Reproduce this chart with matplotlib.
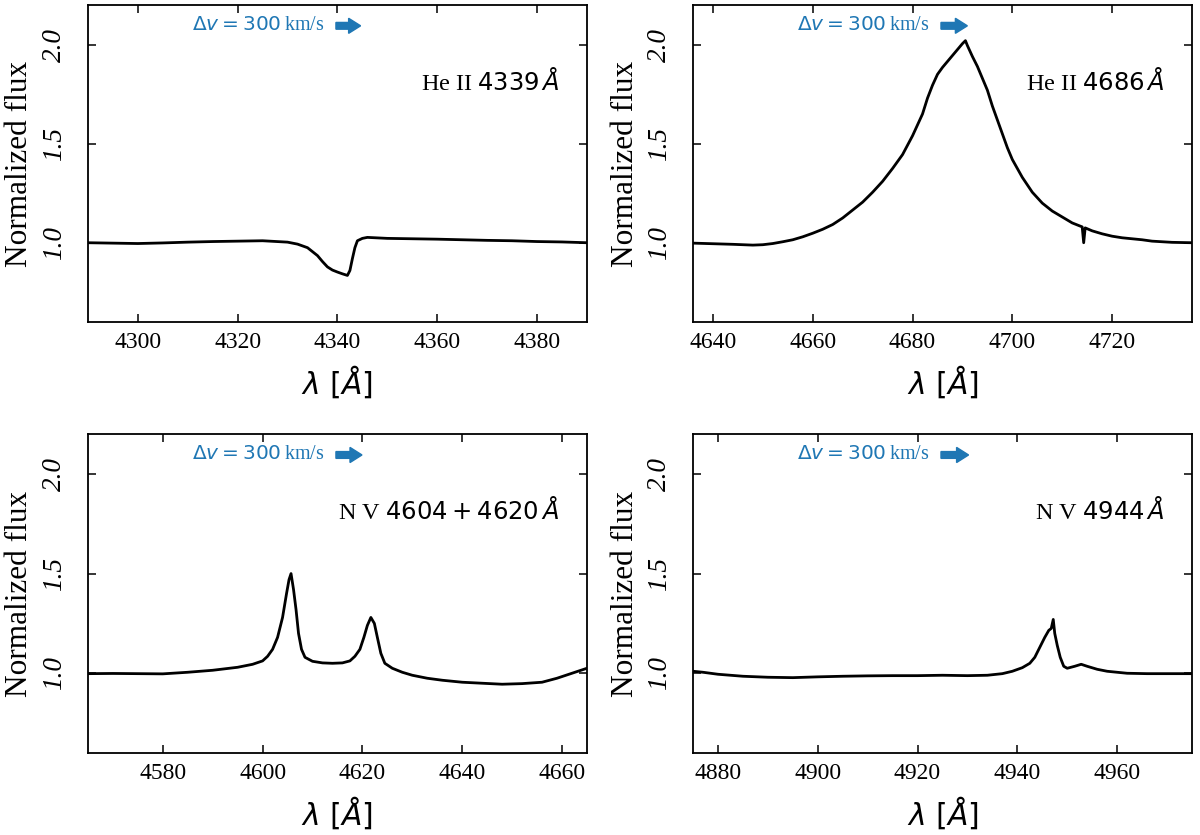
import numpy as np
import matplotlib
matplotlib.use('Agg')
import matplotlib.pyplot as plt

plt.rcParams['font.family'] = 'serif'
plt.rcParams['font.serif'] = ['Liberation Serif', 'DejaVu Serif']
plt.rcParams['mathtext.fontset'] = 'dejavusans'

# values (wavelength in A, normalized flux)
wl_4339 = [4290, 4295, 4300, 4305, 4310, 4315, 4320, 4325, 4330, 4332, 4334, 4336,
           4337, 4338, 4339, 4340, 4341, 4342, 4342.5, 4343, 4343.5, 4344, 4345,
           4346, 4350, 4355, 4360, 4365, 4370, 4375, 4380, 4385, 4390]
fl_4339 = [1.000, 0.998, 0.996, 0.999, 1.003, 1.006, 1.008, 1.010, 1.003, 0.993, 0.975, 0.935,
           0.905, 0.878, 0.862, 0.852, 0.843, 0.835, 0.860, 0.920, 0.975, 1.010, 1.022,
           1.027, 1.022, 1.020, 1.018, 1.015, 1.012, 1.010, 1.006, 1.004, 1.000]

wl_4686 = [4636, 4640, 4644, 4648, 4650, 4652, 4654, 4656, 4658, 4660, 4662, 4664, 4666,
           4668, 4670, 4672, 4674, 4676, 4678, 4680, 4682, 4683, 4684, 4685, 4686, 4687, 4688,
           4689, 4690, 4690.6, 4691, 4692, 4693, 4694, 4695, 4696, 4697, 4698, 4699, 4700,
           4702, 4704, 4706, 4708, 4710, 4712, 4714, 4714.3, 4714.6, 4716, 4718, 4720,
           4722, 4724, 4726, 4728, 4730, 4732, 4736]
fl_4686 = [0.998, 0.995, 0.992, 0.988, 0.990, 0.996, 1.005, 1.015, 1.030, 1.048, 1.068, 1.092, 1.125,
           1.165, 1.205, 1.255, 1.310, 1.375, 1.445, 1.540, 1.650, 1.730, 1.795, 1.850, 1.885, 1.915, 1.945,
           1.975, 2.005, 2.020, 1.995, 1.940, 1.890, 1.830, 1.770, 1.690, 1.620, 1.550, 1.480, 1.420,
           1.330, 1.255, 1.200, 1.160, 1.130, 1.100, 1.080, 1.000, 1.075, 1.060, 1.045, 1.033,
           1.025, 1.020, 1.015, 1.008, 1.005, 1.002, 1.000]

wl_nv46 = [4565, 4570, 4575, 4580, 4585, 4590, 4595, 4598, 4600, 4601, 4602, 4603, 4604,
           4604.8, 4605.3, 4605.7, 4606.2, 4606.7, 4607.2, 4607.8, 4608.5, 4610, 4612, 4614,
           4616, 4617.5, 4618.5, 4619.5, 4620.3, 4621, 4621.7, 4622.4, 4623, 4623.7, 4624.5,
           4626, 4628, 4630, 4633, 4636, 4640, 4644, 4648, 4652, 4656, 4659, 4662, 4665]
fl_nv46 = [0.998, 0.999, 0.998, 0.997, 1.005, 1.015, 1.030, 1.045, 1.062, 1.085, 1.120, 1.180, 1.280,
           1.400, 1.470, 1.500, 1.420, 1.320, 1.200, 1.120, 1.080, 1.060, 1.052, 1.050,
           1.052, 1.062, 1.085, 1.120, 1.180, 1.240, 1.280, 1.250, 1.180, 1.100, 1.050,
           1.025, 1.005, 0.990, 0.975, 0.965, 0.955, 0.950, 0.945, 0.948, 0.955, 0.975, 1.000, 1.025]

wl_4944 = [4875, 4877, 4880, 4885, 4890, 4895, 4900, 4905, 4910, 4915, 4920, 4925, 4930,
           4934, 4937, 4939, 4941, 4942.5, 4943.5, 4944.5, 4945.5, 4946.3, 4946.8, 4947.2,
           4947.5, 4948, 4948.6, 4949.3, 4950, 4951.5, 4952.8, 4954, 4956, 4958, 4962,
           4966, 4970, 4975]
fl_4944 = [1.010, 1.005, 0.995, 0.985, 0.980, 0.978, 0.982, 0.985, 0.987, 0.988, 0.988, 0.990, 0.988,
           0.990, 0.998, 1.010, 1.028, 1.050, 1.080, 1.130, 1.180, 1.215, 1.225, 1.270,
           1.200, 1.140, 1.080, 1.035, 1.025, 1.035, 1.045, 1.035, 1.020, 1.010, 1.000,
           0.998, 0.998, 0.998]

centers = [4340, 4686, 4615, 4925]
labels = ['He II $4339\\,\\AA$', 'He II $4686\\,\\AA$',
          'N V $4604 + 4620\\,\\AA$', 'N V $4944\\,\\AA$']
spectra = [(wl_4339, fl_4339), (wl_4686, fl_4686), (wl_nv46, fl_nv46), (wl_4944, fl_4944)]

dv = 300.0  # km/s
c_kms = 299792.458
blue = '#1f77b4'

fig = plt.figure(figsize=(12, 8.35), dpi=100)
rects = [[0.0733, 0.6144, 0.4158, 0.3796],
         [0.5775, 0.6144, 0.4158, 0.3796],
         [0.0733, 0.0982, 0.4158, 0.382],
         [0.5775, 0.0982, 0.4158, 0.382]]

for rect, (wl, fl), xc, lab in zip(rects, spectra, centers, labels):
    ax = fig.add_axes(rect)
    ax.plot(wl, fl, color='k', lw=2.0)
    ax.set_xlim(xc - 50, xc + 50)
    ax.set_ylim(0.6, 2.2)
    ax.set_yticks([1.0, 1.5, 2.0])
    ax.set_xticks(np.arange(np.ceil((xc - 50) / 20) * 20, xc + 50, 20))
    ax.tick_params(direction='in', top=True, right=True, length=5.5, width=1.1)
    ax.tick_params(axis='x', labelsize=17, pad=7)
    ax.tick_params(axis='y', labelsize=19.5, pad=15)
    for t in ax.get_yticklabels():
        t.set_rotation(90)
        t.set_va('center')
        t.set_style('italic')
    for s in ax.spines.values():
        s.set_linewidth(1.3)
    ax.set_xlabel(r'$\lambda\ [\AA]$', fontsize=21.5, labelpad=8)
    ax.set_ylabel('Normalized flux', fontsize=22.5, labelpad=5.5)

    ax.text(0.945, 0.76, lab, transform=ax.transAxes, ha='right', va='center',
            fontsize=17.5)

    # velocity scale arrow
    dlam = xc * dv / c_kms
    ax.arrow(xc - 0.3, 2.095, dlam + 0.6, 0, width=0.034, head_width=0.076,
             head_length=2.4, length_includes_head=True, color=blue, lw=1)
    ax.text(xc - 2.6, 2.095, r'$\Delta v = 300\,$km/s', color=blue,
            ha='right', va='center', fontsize=14.5)

fig.savefig('out.png', dpi=100)
